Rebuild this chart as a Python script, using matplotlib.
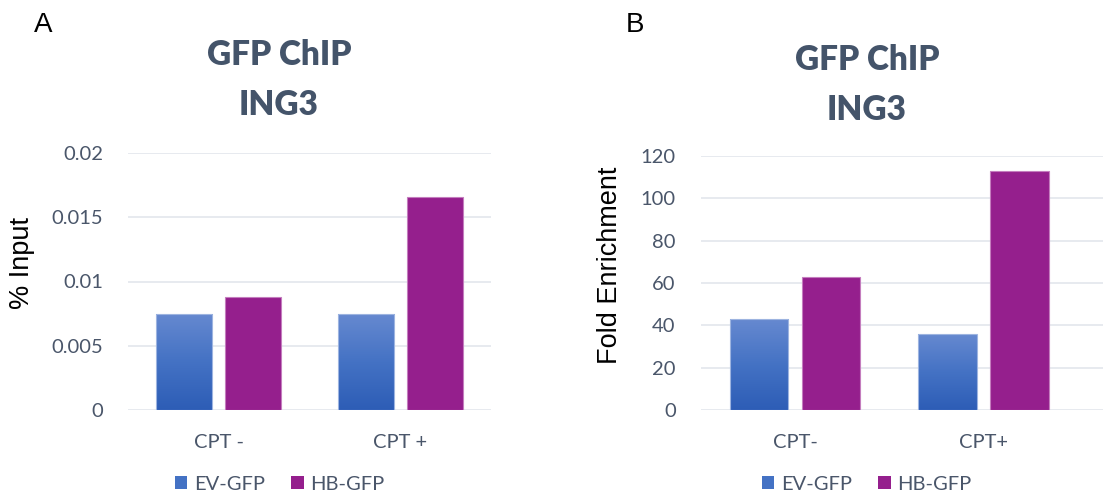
import numpy as np
import matplotlib
matplotlib.use("Agg")
import matplotlib.pyplot as plt
from matplotlib.colors import LinearSegmentedColormap
from matplotlib.patches import Patch

# ---- data ----
categories_a = ["CPT -", "CPT +"]
categories_b = ["CPT-", "CPT+"]
series = ["EV-GFP", "HB-GFP"]
input_ev = [0.0075, 0.00745]
input_hb = [0.0088, 0.01655]
fold_ev = [42.8, 35.9]
fold_hb = [62.7, 112.8]
yticks_a = [0, 0.005, 0.01, 0.015, 0.02]
ytick_labels_a = ["0", "0.005", "0.01", "0.015", "0.02"]
yticks_b = [0, 20, 40, 60, 80, 100, 120]
title_lines = ["GFP ChIP", "ING3"]

W, H = 1103, 495
fig = plt.figure(figsize=(W / 100, H / 100), dpi=100)

TXT = "#44546A"
TICK = "#4A566A"
GRID = "#E3E6EC"
EV_TOP, EV_BOT = "#6689D0", "#2D5DB6"
HB = "#951F8D"
grad = LinearSegmentedColormap.from_list("ev", [EV_BOT, "#4472C4", EV_TOP])
FONT = "Lato"


def fx(px):
    return px / W


def fy(py):
    return 1 - py / H


def panel(left, right, top, bottom, xmax, ev, hb, cats, yticks, ylabels, ymax):
    ax = fig.add_axes([fx(left), fy(bottom), fx(right) - fx(left), fy(top) - fy(bottom)])
    x = np.arange(len(cats))
    off, bw = 0.19, 0.31
    b1 = ax.bar(x - off, ev, bw, color=EV_TOP, edgecolor="#9DB4E0", linewidth=0.8, zorder=3)
    b2 = ax.bar(x + off, hb, bw, color=HB, edgecolor="#C47DBE", linewidth=0.8, zorder=3)
    g = np.linspace(0, 1, 256).reshape(-1, 1)
    for r in b1:
        x0, w, h = r.get_x(), r.get_width(), r.get_height()
        im = ax.imshow(g, extent=[x0, x0 + w, 0, h], origin="lower", aspect="auto",
                       cmap=grad, zorder=3.5)
        im.set_clip_path(r)
    for r in b1:
        r.set_facecolor("none")
        r.set_zorder(4)
    ax.set_xlim(-0.5, xmax)
    ax.set_ylim(0, ymax)
    ax.set_yticks(yticks)
    ax.set_yticklabels(ylabels)
    ax.set_xticks(x)
    ax.set_xticklabels(cats)
    for s in ax.spines.values():
        s.set_visible(False)
    ax.grid(axis="y", color=GRID, linewidth=1.2, zorder=0)
    ax.set_axisbelow(True)
    ax.tick_params(axis="both", length=0, labelsize=14.5, labelcolor=TICK)
    ax.tick_params(axis="y", pad=18)
    ax.tick_params(axis="x", pad=17)
    for lab in ax.get_xticklabels() + ax.get_yticklabels():
        lab.set_fontfamily(FONT)
    return ax


# Panel A
axa = panel(128, 491, 153, 410, 1.5, input_ev, input_hb, categories_a,
            yticks_a, ytick_labels_a, 0.02)
# Panel B
axb = panel(700.7, 1103, 156, 410, 1.5 + 25.3 / 188.7, fold_ev, fold_hb, categories_b,
            yticks_b, [str(v) for v in yticks_b], 120)

# Titles
for cx, ys in [(279, (65, 115)), (867, (70, 120))]:
    for line, yb in zip(title_lines, ys):
        fig.text(fx(cx), fy(yb), line, ha="center", va="baseline", fontsize=24,
                 fontweight="heavy", color=TXT, family=FONT)

# Panel letters
fig.text(fx(43), fy(25), "A", ha="center", va="center", fontsize=20,
         color="black", family="Liberation Sans")
fig.text(fx(635), fy(25), "B", ha="center", va="center", fontsize=20,
         color="black", family="Liberation Sans")

# Y labels
fig.text(fx(22), fy(263), "% Input", rotation=90, ha="center", va="center",
         fontsize=19.5, color="black", family="Liberation Sans")
fig.text(fx(610), fy(265), "Fold Enrichment", rotation=90, ha="center", va="center",
         fontsize=19.5, color="black", family="Liberation Sans")

# Legends
handles = [Patch(facecolor="#4472C4", edgecolor="none", label=series[0]),
           Patch(facecolor=HB, edgecolor="none", label=series[1])]
for cx in (280, 867):
    leg = fig.legend(handles=handles, loc="center", bbox_to_anchor=(fx(cx), fy(484)),
                     ncol=2, frameon=False, handlelength=0.6, handleheight=0.6,
                     handletextpad=0.35, columnspacing=1.3,
                     prop={"family": FONT, "size": 14.5})
    for t in leg.get_texts():
        t.set_color(TICK)

fig.savefig("out.png", dpi=100)
